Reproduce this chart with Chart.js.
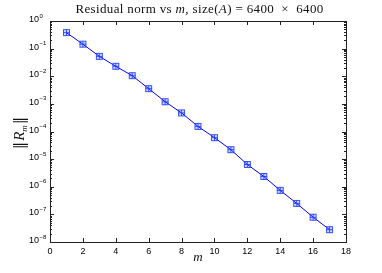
<!DOCTYPE html>
<html>
<head>
<meta charset="utf-8">
<script src="https://cdn.jsdelivr.net/npm/chart.js@4.4.0/dist/chart.umd.min.js"></script>
<style>
  html, body { margin: 0; padding: 0; background: #fff; }
  #wrap { width: 382px; height: 273px; }
</style>
</head>
<body>
<div id="wrap"><canvas id="chart"></canvas></div>
<script>
// values
const mValues = [1, 2, 3, 4, 5, 6, 7, 8, 9, 10, 11, 12, 13, 14, 15, 16, 17];
const residualNorms = [0.38, 0.145, 0.0525, 0.0229, 0.0105, 0.00355, 0.0012, 4.7e-4, 1.53e-4,
  6.0e-5, 2.2e-5, 6.4e-6, 2.35e-6, 7.4e-7, 2.5e-7, 7.9e-8, 2.8e-8];
const xTicks = [0, 2, 4, 6, 8, 10, 12, 14, 16, 18];
const yExponents = [-8, -7, -6, -5, -4, -3, -2, -1, 0];

const BLUE = '#0000ff';
const tickFont = '9px "Liberation Sans", Arial, sans-serif';
const supFont = '6px "Liberation Sans", Arial, sans-serif';
const serif = '"Liberation Serif", "Times New Roman", serif';

// square with a plus inside, like the matlab marker
function makeMarker() {
  const c = document.createElement('canvas');
  c.width = 9; c.height = 9;
  const g = c.getContext('2d');
  g.fillStyle = 'rgba(40,70,255,0.22)';
  g.fillRect(1, 1, 7, 7);
  g.strokeStyle = 'rgba(30,60,255,0.85)';
  g.lineWidth = 1;
  g.strokeRect(1.5, 1.5, 6, 6);
  g.beginPath();
  g.moveTo(4.5, 1.5); g.lineTo(4.5, 7.5);
  g.moveTo(1.5, 4.5); g.lineTo(7.5, 4.5);
  g.stroke();
  return c;
}

function drawRich(ctx, parts, x, y, spacing) {
  // parts: [text, font, dy]; x is the center
  ctx.letterSpacing = (spacing || 0) + 'px';
  let w = 0;
  parts.forEach(p => { ctx.font = p[1]; w += ctx.measureText(p[0]).width; });
  let cx = x - w / 2;
  ctx.textAlign = 'left';
  parts.forEach(p => {
    ctx.font = p[1];
    ctx.fillText(p[0], cx, y + (p[2] || 0));
    cx += ctx.measureText(p[0]).width;
  });
  ctx.letterSpacing = '0px';
}

const axesPlugin = {
  id: 'matlabAxes',
  afterDraw(chart) {
    const ctx = chart.ctx;
    const a = chart.chartArea;
    const xs = chart.scales.x, ys = chart.scales.y;
    ctx.save();
    ctx.strokeStyle = '#222';
    ctx.lineWidth = 1;
    ctx.strokeRect(Math.round(a.left) + 0.5, Math.round(a.top) + 0.5,
      Math.round(a.right - a.left), Math.round(a.bottom - a.top));

    ctx.beginPath();
    xTicks.forEach(v => {
      const px = Math.round(xs.getPixelForValue(v)) + 0.5;
      ctx.moveTo(px, a.bottom); ctx.lineTo(px, a.bottom - 4);
      ctx.moveTo(px, a.top); ctx.lineTo(px, a.top + 4);
    });
    yExponents.forEach(e => {
      const py = Math.round(ys.getPixelForValue(Math.pow(10, e))) + 0.5;
      ctx.moveTo(a.left, py); ctx.lineTo(a.left + 4, py);
      ctx.moveTo(a.right, py); ctx.lineTo(a.right - 4, py);
      if (e < 0) {
        for (let k = 2; k <= 9; k++) {
          const pm = Math.round(ys.getPixelForValue(k * Math.pow(10, e))) + 0.5;
          ctx.moveTo(a.left, pm); ctx.lineTo(a.left + 2, pm);
          ctx.moveTo(a.right, pm); ctx.lineTo(a.right - 2, pm);
        }
      }
    });
    ctx.stroke();

    ctx.fillStyle = '#000';
    ctx.textBaseline = 'alphabetic';
    ctx.font = tickFont;
    ctx.textAlign = 'center';
    xTicks.forEach(v => {
      ctx.fillText(String(v), xs.getPixelForValue(v), a.bottom + 12);
    });
    yExponents.forEach(e => {
      const py = ys.getPixelForValue(Math.pow(10, e));
      ctx.textAlign = 'left';
      ctx.font = tickFont;
      ctx.fillText('10', 29, py + 1);
      ctx.font = supFont;
      ctx.fillText(e === 0 ? '0' : '\u2212' + (-e), 39.5, py - 3.5);
    });

    // title
    ctx.fillStyle = '#111';
    const rf = '13px ' + serif, itf = 'italic 13px ' + serif;
    drawRich(ctx, [
      ['Residual norm vs ', rf], ['m', itf], [', size(', rf], ['A', itf],
      [') = 6400  \u00d7  6400', rf]
    ], 199.5, 12.5, 0.35);

    // x label
    drawRich(ctx, [['m', 'italic 13px ' + serif]], (a.left + a.right) / 2, 261);

    // y label
    ctx.save();
    ctx.translate(23.5, 133);
    ctx.rotate(-Math.PI / 2);
    const bar = '15px "DejaVu Serif", serif';
    drawRich(ctx, [['\u2016', bar], [' ', '4px ' + serif], ['R', 'italic 15px ' + serif],
      ['m', 'italic 9px ' + serif, 3], [' ', '4px ' + serif], ['\u2016', bar]], 0, 0);
    ctx.restore();
    ctx.restore();
  }
};

new Chart(document.getElementById('chart'), {
  type: 'line',
  data: {
    labels: mValues,
    datasets: [{
      data: mValues.map((m, i) => ({ x: m, y: residualNorms[i] })),
      borderColor: BLUE,
      borderWidth: 1,
      pointStyle: makeMarker(),
      pointRadius: 4,
      tension: 0,
      fill: false
    }]
  },
  options: {
    responsive: true,
    maintainAspectRatio: false,
    animation: false,
    events: [],
    layout: { padding: { top: 21, right: 36, bottom: 0, left: 0 } },
    plugins: { legend: { display: false }, tooltip: { enabled: false } },
    scales: {
      x: {
        type: 'linear', min: 0, max: 18,
        grid: { display: false }, border: { display: false },
        ticks: { display: false },
        afterFit(s) { s.height = 31; }
      },
      y: {
        type: 'logarithmic', min: 1e-8, max: 1,
        grid: { display: false }, border: { display: false },
        ticks: { display: false },
        afterFit(s) { s.width = 50; }
      }
    }
  },
  plugins: [axesPlugin]
});
</script>
</body>
</html>
